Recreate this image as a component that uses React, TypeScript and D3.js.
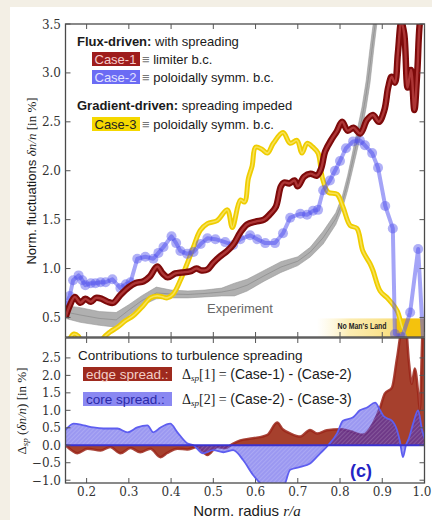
import React from 'react';
import * as d3 from 'd3';

const W = 432;
const H = 520;

// ---------- data (normalized radius r/a, value) ----------
const case1: [number, number][] = [
  [0.150, 0.50], [0.160, 0.62], [0.172, 0.71], [0.185, 0.65], [0.197, 0.69], [0.210, 0.66],
  [0.222, 0.70], [0.236, 0.69], [0.250, 0.66], [0.263, 0.65], [0.280, 0.73], [0.300, 0.81],
  [0.315, 0.85], [0.335, 0.87], [0.350, 0.92], [0.367, 1.02], [0.380, 0.95], [0.392, 0.91],
  [0.410, 0.95], [0.425, 0.96], [0.445, 0.97], [0.460, 1.00], [0.472, 0.98], [0.486, 0.99],
  [0.500, 1.06], [0.515, 1.12], [0.533, 1.18], [0.548, 1.25], [0.564, 1.37], [0.580, 1.45],
  [0.600, 1.48], [0.620, 1.50], [0.635, 1.56], [0.648, 1.63], [0.660, 1.84], [0.668, 1.88],
  [0.680, 1.87], [0.692, 1.90], [0.700, 1.84], [0.715, 1.94], [0.730, 1.97], [0.745, 1.95],
  [0.755, 2.02], [0.765, 2.20], [0.780, 2.32], [0.792, 2.40], [0.805, 2.50], [0.818, 2.41],
  [0.832, 2.44], [0.848, 2.38], [0.864, 2.52], [0.878, 2.57], [0.892, 2.50], [0.905, 2.62],
  [0.914, 2.85], [0.922, 2.96], [0.930, 2.90], [0.937, 3.20], [0.945, 3.52], [0.952, 3.40],
  [0.960, 2.85], [0.968, 3.03], [0.976, 2.62], [0.983, 3.02], [0.990, 3.55], [0.999, 3.7],
];

const case2: [number, number][] = [
  [0.150, 0.62], [0.160, 0.72], [0.168, 0.88], [0.181, 0.93], [0.190, 0.88], [0.197, 0.83],
  [0.210, 0.85], [0.221, 0.85], [0.233, 0.86], [0.245, 0.86], [0.261, 0.89], [0.280, 0.80],
  [0.293, 0.84], [0.304, 0.86], [0.320, 1.10], [0.339, 1.12], [0.358, 1.10], [0.370, 1.16],
  [0.382, 1.22], [0.401, 1.33], [0.412, 1.26], [0.422, 1.18], [0.438, 1.15], [0.453, 1.17],
  [0.470, 1.25], [0.486, 1.31], [0.505, 1.30], [0.528, 1.27], [0.547, 1.24], [0.564, 1.30],
  [0.587, 1.34], [0.604, 1.30], [0.623, 1.26], [0.646, 1.26], [0.665, 1.36], [0.682, 1.52],
  [0.706, 1.56], [0.722, 1.55], [0.736, 1.59], [0.748, 1.60], [0.760, 1.80], [0.776, 1.90],
  [0.788, 2.00], [0.800, 2.10], [0.814, 2.23], [0.831, 2.30], [0.847, 2.31], [0.859, 2.26],
  [0.876, 2.18], [0.890, 2.03], [0.907, 1.64], [0.925, 1.41], [0.930, 0.33], [0.947, 0.30],
  [0.966, 0.55], [0.985, 1.20], [0.997, 0.25],
];

const case3: [number, number][] = [
  [0.150, 0.15], [0.160, 0.28], [0.170, 0.33], [0.180, 0.31], [0.190, 0.22], [0.210, 0.12],
  [0.230, 0.20], [0.240, 0.29], [0.255, 0.35], [0.273, 0.40], [0.290, 0.46], [0.311, 0.52],
  [0.334, 0.62], [0.351, 0.70], [0.367, 0.72], [0.380, 0.71], [0.391, 0.70], [0.405, 0.74],
  [0.422, 0.88], [0.438, 1.05], [0.453, 1.22], [0.469, 1.39], [0.486, 1.46], [0.509, 1.49],
  [0.533, 1.60], [0.545, 1.42], [0.564, 1.70], [0.574, 1.68], [0.583, 1.92], [0.592, 2.05],
  [0.600, 2.24], [0.615, 2.22], [0.628, 2.18], [0.642, 2.28], [0.665, 2.39], [0.682, 2.28],
  [0.698, 2.31], [0.710, 2.18], [0.722, 2.28], [0.736, 2.24], [0.748, 2.18], [0.758, 1.93],
  [0.772, 1.78], [0.793, 1.76], [0.807, 1.63], [0.824, 1.44], [0.840, 1.41], [0.854, 1.18],
  [0.871, 1.05], [0.878, 0.98], [0.895, 0.77], [0.914, 0.69], [0.935, 0.57], [0.947, 0.40],
  [0.959, 0.28], [0.975, 0.10],
];

// experiment band: r, lower, upper
const experiment: [number, number, number][] = [
  [0.150, 0.49, 0.62], [0.185, 0.45, 0.60], [0.230, 0.42, 0.56], [0.270, 0.40, 0.55],
  [0.300, 0.52, 0.63], [0.330, 0.62, 0.72], [0.365, 0.69, 0.81], [0.400, 0.70, 0.78],
  [0.440, 0.70, 0.77], [0.480, 0.71, 0.78], [0.520, 0.72, 0.80], [0.550, 0.72, 0.85],
  [0.580, 0.77, 0.89], [0.620, 0.87, 0.98], [0.660, 0.96, 1.07], [0.700, 1.03, 1.12],
  [0.730, 1.12, 1.22], [0.760, 1.25, 1.38], [0.790, 1.45, 1.57], [0.806, 1.62, 1.75],
  [0.818, 1.80, 1.95], [0.828, 1.98, 2.15], [0.840, 2.20, 2.40], [0.852, 2.42, 2.65],
  [0.862, 2.65, 2.92], [0.871, 2.90, 3.25], [0.880, 3.25, 3.55], [0.890, 3.60, 3.80],
];

// bottom panel: edge spreading (red) and core spreading (blue)
const edgeSpread: [number, number][] = [
  [0.150, 0.00], [0.165, -0.15], [0.178, -0.23], [0.202, -0.10], [0.233, -0.15], [0.256, -0.05],
  [0.280, -0.23], [0.304, -0.08], [0.327, -0.20], [0.351, -0.10], [0.375, -0.34], [0.391, -0.22],
  [0.415, -0.10], [0.438, -0.12], [0.462, -0.05], [0.486, -0.28], [0.509, -0.05], [0.528, -0.08],
  [0.547, 0.05], [0.564, 0.14], [0.594, 0.20], [0.628, 0.30], [0.651, 0.65], [0.665, 0.45],
  [0.682, 0.34], [0.706, 0.25], [0.729, 0.44], [0.746, 0.34], [0.769, 0.43], [0.800, 0.46],
  [0.824, 0.40], [0.854, 0.30], [0.878, 0.62], [0.895, 1.08], [0.906, 1.48], [0.923, 1.65],
  [0.935, 2.50], [0.947, 3.30], [0.956, 3.30], [0.963, 2.40], [0.970, 1.76], [0.977, 2.20],
  [0.985, 1.50], [0.989, 1.00], [0.996, 3.30], [1.000, 3.30],
];

const coreSpread: [number, number][] = [
  [0.150, 0.43], [0.169, 0.62], [0.193, 0.57], [0.216, 0.51], [0.240, 0.48], [0.273, 0.48],
  [0.297, 0.37], [0.320, 0.51], [0.344, 0.57], [0.358, 0.37], [0.375, 0.51], [0.398, 0.62],
  [0.415, 0.37], [0.438, 0.06], [0.453, 0.00], [0.476, -0.23], [0.500, -0.14], [0.524, -0.20],
  [0.547, -0.14], [0.571, -0.43], [0.594, -0.85], [0.628, -1.20], [0.665, -1.20], [0.682, -0.70],
  [0.706, -0.62], [0.729, -0.52], [0.753, -0.23], [0.772, 0.00], [0.793, 0.34], [0.807, 0.70],
  [0.831, 0.80], [0.847, 1.00], [0.864, 1.08], [0.883, 1.22], [0.895, 1.00], [0.902, 0.85],
  [0.911, 0.77], [0.923, 0.70], [0.935, 0.43], [0.942, 0.10], [0.949, -0.34], [0.956, 0.00],
  [0.963, 0.20], [0.973, 0.62], [0.985, 1.00], [0.994, 0.45], [1.000, 0.20],
];

const xTicks = [0.2, 0.3, 0.4, 0.5, 0.6, 0.7, 0.8, 0.9, 1.0];
const xTickLabels = ['0.2', '0.3', '0.4', '0.5', '0.6', '0.7', '0.8', '0.9', '1.0'];
const yTopTicks = [0.5, 1.0, 1.5, 2.0, 2.5, 3.0, 3.5];
const yTopLabels = ['0.5', '1.0', '1.5', '2.0', '2.5', '3.0', '3.5'];
const yBotTicks = [-1.0, -0.5, 0.0, 0.5, 1.0, 1.5, 2.0, 2.5];
const yBotLabels = ['\u22121.0', '\u22120.5', '0.0', '0.5', '1.0', '1.5', '2.0', '2.5'];

// ---------- layout ----------
const L = 65.5, R = 424.5;
const T1 = 24, B1 = 337;
const T2 = 338, B2 = 483;

const x = d3.scaleLinear().domain([0.15, 1.0]).range([L, R]);
const yTop = d3.scaleLinear().domain([0.3, 3.5]).range([B1, T1]);
const yBot = d3.scaleLinear().domain([-1.08, 3.07]).range([B2, T2]);

const SANS = 'Liberation Sans, Arial, sans-serif';
const SERIF = 'DejaVu Serif, serif';
const MATH = 'Liberation Serif, serif';

export default function App() {
  const smooth = d3.line<[number, number]>().x(d => x(d[0])).y(d => yTop(d[1])).curve(d3.curveCatmullRom.alpha(0.5));
  const straight = d3.line<[number, number]>().x(d => x(d[0])).y(d => yTop(d[1]));
  const band = d3.area<[number, number, number]>().x(d => x(d[0])).y0(d => yTop(d[1])).y1(d => yTop(d[2]));
  const midBand = d3.line<[number, number, number]>().x(d => x(d[0])).y(d => yTop((d[1] + d[2]) / 2));
  const areaBot = d3.area<[number, number]>().x(d => x(d[0])).y0(yBot(0)).y1(d => yBot(d[1])).curve(d3.curveMonotoneX);
  const lineBot = d3.line<[number, number]>().x(d => x(d[0])).y(d => yBot(d[1])).curve(d3.curveMonotoneX);

  const tickCol = '#555';
  const frameCol = '#4a4a4a';

  return (
    <svg width={W} height={H} style={{ position: 'absolute', left: 0, top: 0 }} xmlns="http://www.w3.org/2000/svg">
      <defs>
        <clipPath id="clipTop"><rect x={L} y={T1} width={R - L} height={B1 - T1} /></clipPath>
        <clipPath id="clipBot"><rect x={L} y={T2} width={R - L} height={B2 - T2} /></clipPath>
        <pattern id="hatch" width="3" height="3" patternUnits="userSpaceOnUse" patternTransform="rotate(45)">
          <line x1="0" y1="0" x2="0" y2="3" stroke="rgba(255,255,255,0.3)" strokeWidth="1" />
        </pattern>
        <linearGradient id="nml" gradientUnits="userSpaceOnUse" x1={x(0.745)} y1="0" x2={R} y2="0">
          <stop offset="0" stopColor="#fdf2c4" stopOpacity="0" />
          <stop offset="0.3" stopColor="#fbe9a4" stopOpacity="0.85" />
          <stop offset="0.72" stopColor="#f9df7e" stopOpacity="1" />
          <stop offset="0.74" stopColor="#f4c20d" stopOpacity="1" />
          <stop offset="1" stopColor="#f4c20d" stopOpacity="1" />
        </linearGradient>
      </defs>

      <rect x={0} y={0} width={W} height={H} fill="#f3efe5" />
      <rect x={10} y={7} width={W - 10} height={H - 7} fill="#ffffff" />

      {/* ---------------- top panel ---------------- */}
      <g clipPath="url(#clipTop)">
        <rect x={x(0.745)} y={yTop(0.49)} width={R - x(0.745)} height={B1 - yTop(0.49)} fill="url(#nml)" />
        <path d={band(experiment) || ''} fill="#b0b0b0" stroke="#999" strokeWidth={0.6} />
        <path d={midBand(experiment) || ''} fill="none" stroke="#8a8a8a" strokeWidth={0.7} />

        <path d={smooth(case3) || ''} fill="none" stroke="#efcd00" strokeWidth={5} strokeLinejoin="round" />
        <path d={smooth(case3) || ''} fill="none" stroke="#f8e256" strokeWidth={1.6} strokeLinejoin="round" />

        <path d={straight(case2) || ''} fill="none" stroke="rgba(90,90,240,0.55)" strokeWidth={4} strokeLinejoin="round" />
        {case2.map((d, i) => (
          <circle key={i} cx={x(d[0])} cy={yTop(d[1])} r={5} fill="rgba(80,80,235,0.45)" />
        ))}

        <path d={smooth(case1) || ''} fill="none" stroke="#7d0a0a" strokeWidth={6.5} strokeLinejoin="round" />
        <path d={smooth(case1) || ''} fill="none" stroke="#ad3636" strokeWidth={2.4} strokeLinejoin="round" />
      </g>

      <text x={x(0.563)} y={yTop(0.55)} textAnchor="middle" fontFamily={SANS} fontSize={13} fill="#666">Experiment</text>
      <text x={362} y={329} textAnchor="middle" fontFamily={SANS} fontSize={8.5} fontWeight="bold" fill="#222" textLength={49} lengthAdjust="spacingAndGlyphs">No Man's Land</text>

      {/* top legend */}
      <text x={77} y={46} fontFamily={SANS} fontSize={13} fill="#1a1a1a">
        <tspan fontWeight="bold">Flux-driven:</tspan> with spreading
      </text>
      <rect x={92} y={52} width={48} height={14} fill="#9e1c1c" />
      <text x={94.5} y={63.5} fontFamily={SANS} fontSize={13} fill="#f6cccc">Case-1</text>
      <text x={142} y={63.5} fontFamily={SANS} fontSize={13} fill="#1a1a1a"><tspan fill="#777">≡</tspan> limiter b.c.</text>
      <rect x={92} y={70} width={48} height={14} fill="#6b6bf4" />
      <text x={94.5} y={81.5} fontFamily={SANS} fontSize={13} fill="#e2e2ff">Case-2</text>
      <text x={142} y={81.5} fontFamily={SANS} fontSize={13} fill="#1a1a1a"><tspan fill="#777">≡</tspan> poloidally symm. b.c.</text>
      <text x={77} y={110} fontFamily={SANS} fontSize={13} fill="#1a1a1a">
        <tspan fontWeight="bold">Gradient-driven:</tspan> spreading impeded
      </text>
      <rect x={92} y={117} width={48} height={14} fill="#f5d800" />
      <text x={94.5} y={128.5} fontFamily={SANS} fontSize={13} fill="#222">Case-3</text>
      <text x={142} y={128.5} fontFamily={SANS} fontSize={13} fill="#1a1a1a"><tspan fill="#777">≡</tspan> poloidally symm. b.c.</text>

      {/* top frame & ticks */}
      <rect x={L} y={T1} width={R - L} height={B1 - T1} fill="none" stroke={frameCol} strokeWidth={1.3} />
      {xTicks.map((t, i) => (
        <g key={'xt' + i} stroke={tickCol} strokeWidth={1}>
          <line x1={x(t)} x2={x(t)} y1={T1} y2={T1 + 5} />
          <line x1={x(t)} x2={x(t)} y1={B1} y2={B1 - 5} />
          <line x1={x(t)} x2={x(t)} y1={T2} y2={T2 + 5} />
          <line x1={x(t)} x2={x(t)} y1={B2} y2={B2 - 5} />
        </g>
      ))}
      {yTopTicks.map((t, i) => (
        <g key={'yt' + i}>
          <line x1={L} x2={L + 5} y1={yTop(t)} y2={yTop(t)} stroke={tickCol} />
          <line x1={R} x2={R - 5} y1={yTop(t)} y2={yTop(t)} stroke={tickCol} />
          <text x={61} y={yTop(t) + 4.5} textAnchor="end" fontFamily={SERIF} fontSize={12} fill="#333">{yTopLabels[i]}</text>
        </g>
      ))}

      {/* ---------------- bottom panel ---------------- */}
      <g clipPath="url(#clipBot)">
        <path d={areaBot(edgeSpread) || ''} fill="#a6402d" />
        <path d={lineBot(edgeSpread) || ''} fill="none" stroke="#9a2518" strokeWidth={2.5} opacity={0.85} />
        <path d={areaBot(coreSpread) || ''} fill="rgba(55,50,228,0.5)" />
        <path d={areaBot(coreSpread) || ''} fill="url(#hatch)" />
        <path d={lineBot(coreSpread) || ''} fill="none" stroke="#5e5ef0" strokeWidth={1.8} />
        <line x1={L} x2={R} y1={yBot(0)} y2={yBot(0)} stroke="#3a32d0" strokeWidth={2} />
      </g>

      {/* bottom legend */}
      <text x={78} y={360} fontFamily={SANS} fontSize={13.5} fill="#1a1a1a">Contributions to turbulence spreading</text>
      <rect x={83} y={367} width={89} height={14} fill="#9e2a1e" />
      <text x={86} y={378.5} fontFamily={SANS} fontSize={13.5} fill="#f3cfc6">edge spread.:</text>
      <text x={182} y={378.5} fontSize={14} fill="#1a1a1a">
        <tspan fontFamily={MATH}>Δ</tspan><tspan fontFamily={MATH} fontStyle="italic" fontSize={9} dy={2}>sp</tspan><tspan fontFamily={MATH} dy={-2}>[1] = </tspan><tspan fontFamily={SANS}>(Case-1) - (Case-2)</tspan>
      </text>
      <rect x={83} y={392} width={89} height={14} fill="#8a88f2" />
      <text x={86} y={403.5} fontFamily={SANS} fontSize={13.5} fill="#2b2aa8">core spread.:</text>
      <text x={182} y={403.5} fontSize={14} fill="#1a1a1a">
        <tspan fontFamily={MATH}>Δ</tspan><tspan fontFamily={MATH} fontStyle="italic" fontSize={9} dy={2}>sp</tspan><tspan fontFamily={MATH} dy={-2}>[2] = </tspan><tspan fontFamily={SANS}>(Case-2) - (Case-3)</tspan>
      </text>
      <text x={350} y={477} fontFamily={SANS} fontSize={18} fontWeight="bold" fill="#2424c4">(c)</text>

      {/* bottom frame & ticks */}
      <rect x={L} y={T2} width={R - L} height={B2 - T2} fill="none" stroke={frameCol} strokeWidth={1.3} />
      {yBotTicks.map((t, i) => (
        <g key={'yb' + i}>
          <line x1={L} x2={L + 5} y1={yBot(t)} y2={yBot(t)} stroke={tickCol} />
          <line x1={R} x2={R - 5} y1={yBot(t)} y2={yBot(t)} stroke={tickCol} />
          <text x={61} y={yBot(t) + 4.5} textAnchor="end" fontFamily={SERIF} fontSize={12} fill="#333">{yBotLabels[i]}</text>
        </g>
      ))}
      {xTicks.map((t, i) => {
        const last = i === xTicks.length - 1;
        return (
          <text key={'xl' + i} x={last ? 431.5 : x(t)} y={496} textAnchor={last ? 'end' : 'middle'} fontFamily={SERIF} fontSize={12} fill="#333">{xTickLabels[i]}</text>
        );
      })}

      {/* axis titles */}
      <text x={247} y={516} textAnchor="middle" fontSize={15} fill="#1a1a1a">
        <tspan fontFamily={SANS}>Norm. radius </tspan><tspan fontFamily={MATH} fontStyle="italic">r/a</tspan>
      </text>
      <text transform="translate(36,181) rotate(-90)" textAnchor="middle" fontSize={13} fill="#1a1a1a">
        <tspan fontFamily={SANS}>Norm. fluctuations </tspan><tspan fontFamily={MATH} fontStyle="italic">δn/n</tspan><tspan fontFamily={MATH}>{'  [in %]'}</tspan>
      </text>
      <text transform="translate(26,411) rotate(-90)" textAnchor="middle" fontSize={13} fill="#1a1a1a">
        <tspan fontFamily={MATH}>Δ</tspan><tspan fontFamily={MATH} fontStyle="italic" fontSize={9} dy={2}>sp</tspan><tspan fontFamily={MATH} dy={-2}> (</tspan><tspan fontFamily={MATH} fontStyle="italic">δn/n</tspan><tspan fontFamily={MATH}>{')   [in %]'}</tspan>
      </text>
    </svg>
  );
}
